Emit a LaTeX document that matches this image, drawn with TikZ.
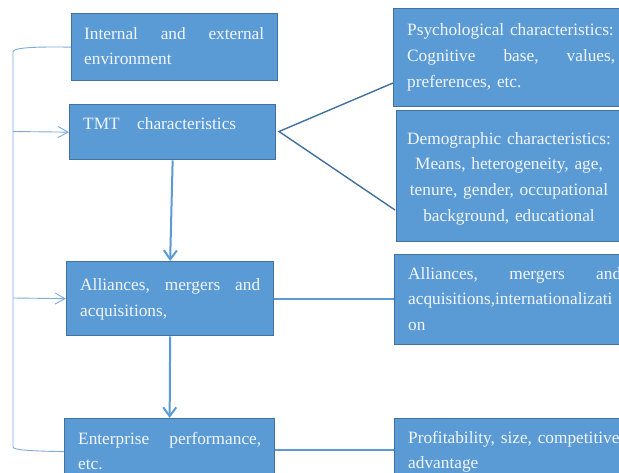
\documentclass[tikz,border=0pt]{standalone}
\usepackage{fontspec}
\setmainfont{Liberation Serif}
\usetikzlibrary{arrows.meta,calc}
\definecolor{boxfill}{HTML}{5B9BD5}
\definecolor{boxline}{HTML}{41719C}
\definecolor{brk}{RGB}{125,172,222}
\definecolor{txtc}{HTML}{F2F6FB}
\tikzset{
  box/.style={draw=boxline, fill=boxfill, line width=1.3pt, inner sep=0pt, anchor=north west},
  txt/.style={text=txtc, inner sep=0pt, anchor=north west, align=left,
    font=\fontsize{17.3}{25.7}\selectfont},
  mainarrow/.style={draw=boxfill, line width=2pt, -{Straight Barb[length=9pt,width=13pt]}},
  mainline/.style={draw=boxfill, line width=2pt},
  triline/.style={draw=boxline, line width=1.4pt},
  bracket/.style={draw=brk, line width=0.9pt},
  brkarrow/.style={draw=brk, line width=0.9pt, -{Straight Barb[length=10pt,width=11pt]}},
}
\begin{document}
\begin{tikzpicture}[x=1pt,y=-1pt]
\clip (0,0) rectangle (619,473);
\fill[white] (0,0) rectangle (619,473);
% left column boxes
\node[box, minimum width=206, minimum height=67] (b1) at (71,13) {};
\node[box, minimum width=206, minimum height=55] (b2) at (69,104) {};
\node[box, minimum width=207, minimum height=74] (b3) at (66,261) {};
\node[box, minimum width=210, minimum height=62] (b4) at (64,418) {};
% right column boxes
\node[box, minimum width=250, minimum height=98] (r1) at (393,8) {};
\node[box, minimum width=250, minimum height=131] (r2) at (396,110) {};
\node[box, minimum width=250, minimum height=90] (r3) at (394,254) {};
\node[box, minimum width=250, minimum height=62] (r4) at (394,418) {};
% texts
\node[txt, text width=180] (t1) at (84,21) {\strut Internal\hfill and\hfill external\\\strut environment};
\node[txt] (t2) at (83,111) {\strut TMT\hspace{17.5pt}characteristics};
\node[txt, text width=180] (t3) at (80,272.5) {\strut Alliances,\hfill mergers\hfill and\\\strut acquisitions,};
\node[txt, text width=183] (t4) at (78,426) {\strut Enterprise\hfill performance,\\\strut etc.};
\node[txt, text width=208] (u1) at (407,17.7) {\strut Psychological characteristics:\\\strut Cognitive\hfill base,\hfill values,\\\strut preferences, etc.};
\node[txt, text width=230, align=center, anchor=north] (u2) at (509,126) {\strut Demographic characteristics:\\\strut Means, heterogeneity, age,\\\strut tenure, gender, occupational\\\strut background, educational};
\node[txt, text width=213] (u3) at (408,261) {\strut Alliances,\hfill mergers\hfill and\\\strut acquisitions,internationalizati\\\strut on};
\node[txt, text width=240] (u4) at (408,425) {\strut Profitability, size, competitive\\\strut advantage};
% vertical flow
\draw[mainarrow] (b2.south) -- (b3.north);
\draw[mainarrow] (b3.south) -- (b4.north);
% triangle to the right boxes
\coordinate (apex) at (279,131.5);
\coordinate (p1) at (393,83);
\coordinate (p2) at (395,210);
\draw[triline] (p1) -- (apex) -- (p2);
% horizontal connectors
\draw[mainline] (b3.east) -- (b3.east -| r3.west);
\draw[mainline] (b4.east) -- (b4.east -| r4.west);
% left feedback bracket
\coordinate (lt) at (13,52);
\coordinate (lb) at (13,447);
\coordinate (la) at (13,131.5);
\coordinate (lc) at (13,298);
\draw[bracket] (b1.west) .. controls (30,46.5) and (13,48) .. (lt) -- (lb) .. controls (13,450) and (30,451) .. ($(b4.west)+(0,2)$);
\draw[brkarrow] (la) -- (b2.west);
\draw[brkarrow] (lc) -- (b3.west);
\end{tikzpicture}
\end{document}
